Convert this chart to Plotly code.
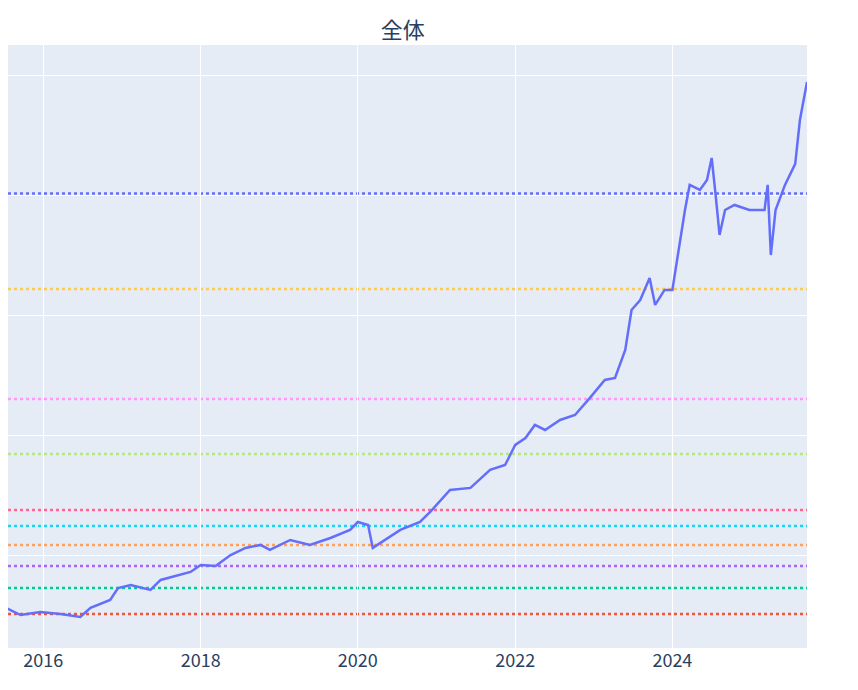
import plotly.graph_objects as go
import pandas as pd

years = [2015.45,2015.58,2015.71,2015.96,2016.22,2016.47,2016.60,2016.85,2016.95,2017.11,2017.36,2017.49,2017.87,
 2018.0,2018.19,2018.38,2018.57,2018.76,2018.88,2019.14,2019.39,2019.65,2019.90,2020.0,2020.13,2020.19,2020.35,
 2020.54,2020.79,2020.92,2021.17,2021.43,2021.68,2021.87,2022.0,2022.13,2022.25,2022.38,2022.57,2022.76,2022.95,
 2023.14,2023.27,2023.40,2023.48,2023.59,2023.71,2023.78,2023.90,2024.0,2024.06,2024.16,2024.22,2024.35,2024.44,
 2024.50,2024.55,2024.60,2024.67,2024.79,2024.98,2025.17,2025.21,2025.25,2025.31,2025.43,2025.56,2025.62,2025.71]
values = [2592,2550,2508,2533,2517,2492,2567,2633,2733,2758,2717,2800,2867,
 2925,2917,3008,3067,3092,3050,3133,3092,3150,3217,3283,3258,3067,3133,
 3217,3283,3367,3550,3567,3717,3758,3925,3983,4092,4050,4133,4175,4317,
 4467,4483,4717,5050,5133,5317,5092,5217,5217,5467,5883,6092,6050,6133,
 6317,6008,5675,5883,5925,5883,5883,6092,5508,5883,6092,6267,6633,6950]
levels = [2517,2733,2917,3092,3250,3383,3850,4308,5225,6020]
level_colors = ["#EF553B","#00cc96","#ab63fa","#FFA15A","#19d3f3","#FF6692","#B6E880","#FF97FF","#FECB52","#636efa"]

def to_date(y):
    yr = int(y)
    start = pd.Timestamp(f"{yr}-01-01")
    return start + pd.Timedelta(days=(y - yr) * 365.25)

dates = [to_date(y) for y in years]

fig = go.Figure(go.Scatter(x=dates, y=values, mode="lines", line=dict(color="#636efa", width=2.5)))
for lv, c in zip(levels, level_colors):
    fig.add_hline(y=lv, line=dict(color=c, width=2.5, dash="dot"), layer="below")

fig.update_layout(
    width=858, height=690, template="plotly",
    title=dict(text="全体", x=0.46, xanchor="center", yref="container", y=0.968, yanchor="middle",
               font=dict(size=22, color="#2a3f5f")),
    margin=dict(l=0, r=59, t=37, b=50, autoexpand=False),
    showlegend=False,
    font=dict(family="Noto Sans CJK JP", size=18, color="#2a3f5f"),
)
fig.update_xaxes(range=[to_date(2015.55), to_date(2025.71)], dtick="M24", tickformat="%Y")
fig.update_yaxes(range=[2233, 7258], dtick=1000, showticklabels=False)
fig.write_html("out.html")
